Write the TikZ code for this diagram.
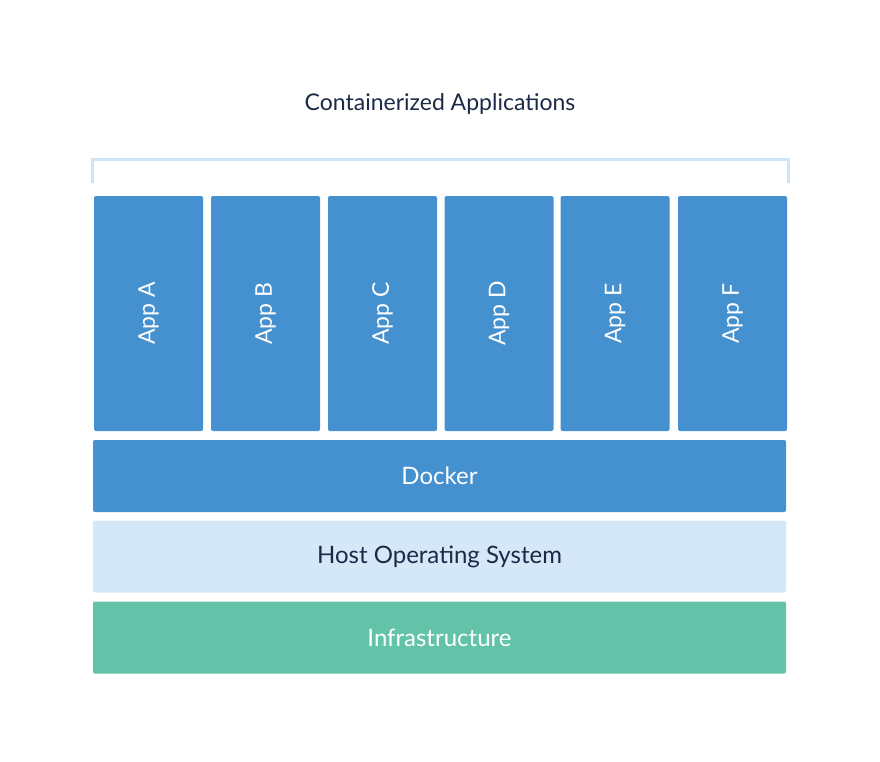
\documentclass[tikz,border=0pt]{standalone}
\usepackage{fontspec}
\setmainfont{Lato}
\definecolor{appblue}{HTML}{4590CE}
\definecolor{hostblue}{HTML}{D5E8F7}
\definecolor{infra}{HTML}{62C3A9}
\definecolor{navy}{HTML}{1B2A47}
\definecolor{brack}{HTML}{CFE5F5}
\begin{document}
\begin{tikzpicture}[x=1pt,y=-1pt,
  layer/.style={rounded corners=2pt, minimum width=693pt, minimum height=72pt, inner sep=0pt, font=\fontsize{24}{28}\selectfont},
  app/.style={rounded corners=2pt, fill=appblue, minimum width=109pt, minimum height=235pt, inner sep=0pt},
  applabel/.style={text=white, rotate=90, font=\fontsize{23}{27}\selectfont}]
\useasboundingbox (0,0) rectangle (880,762);
\node[text=navy, font=\fontsize{23}{27}\selectfont] (title) at (440,104) {Containerized Applications};
\draw[brack, line width=3pt] (92,183) -- (92,160) -- (788,160) -- (788,183);
\foreach \n/\x/\l in {a/148.5/A, b/265.5/B, c/382.5/C, d/499/D, e/615/E, f/732.5/F}{
  \node[app] (app\n) at (\x,313.5) {};
  \node[applabel] (lab\n) at (\x,313.5) {App \l};
}
\node[layer, fill=appblue, text=white] (docker) at (439.5,476) {Docker};
\node[layer, fill=hostblue, text=navy] (host) at (439.5,556.5) {Host Operating System};
\node[layer, fill=infra, text=white] (infra) at (439.5,637.5) {Infrastructure};
\end{tikzpicture}
\end{document}
